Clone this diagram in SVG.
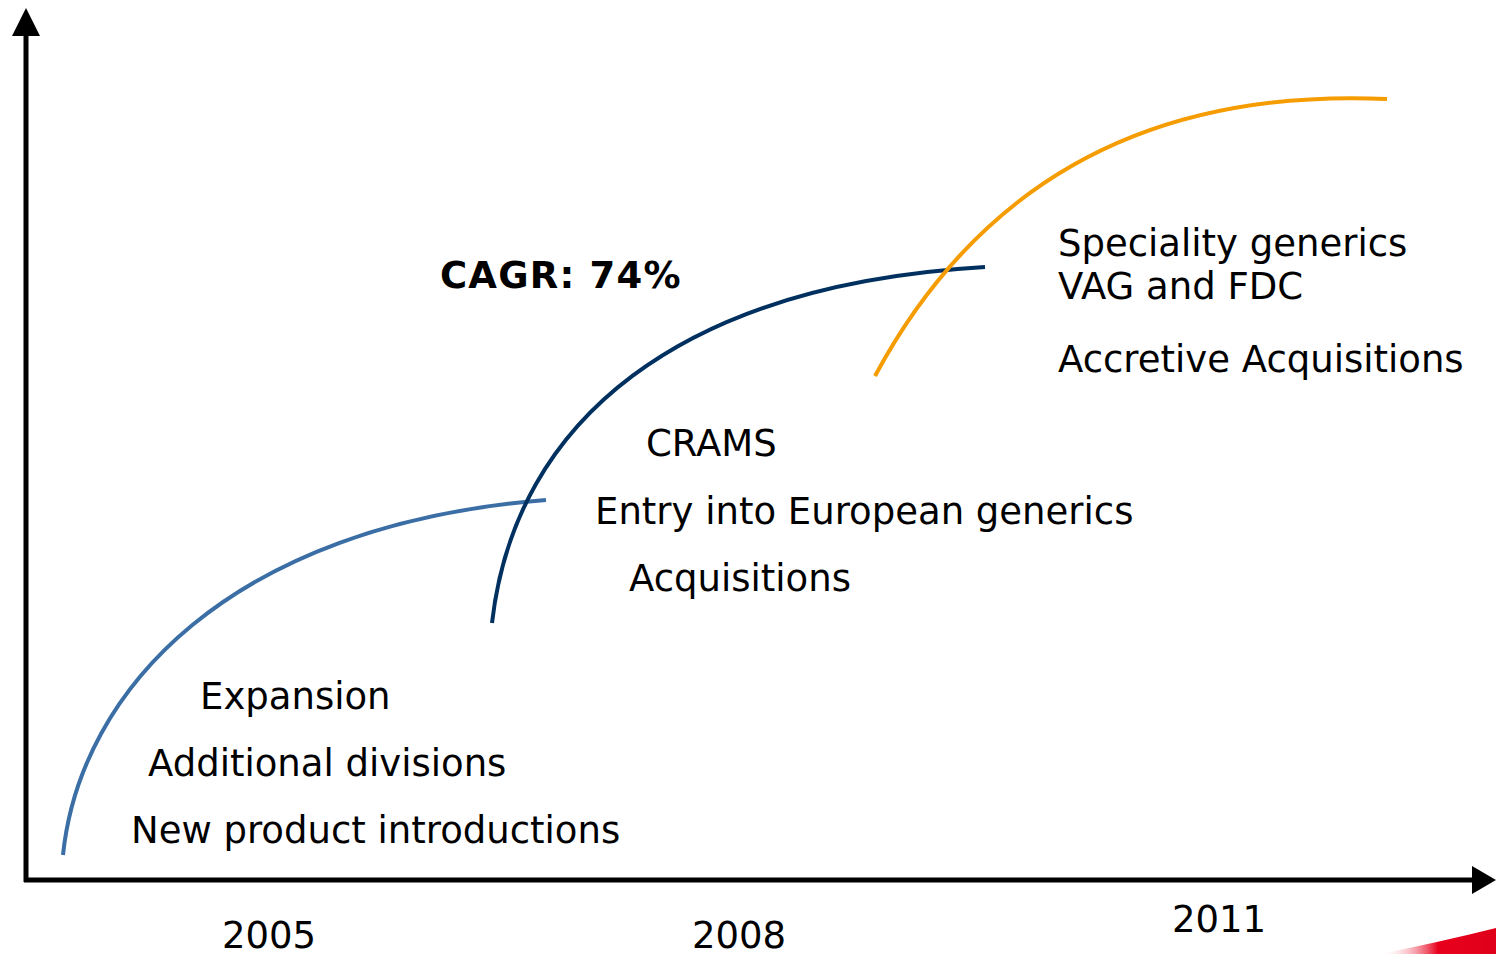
<svg xmlns="http://www.w3.org/2000/svg" width="1496" height="954" viewBox="0 0 1496 954">
<style>
text{font-family:"DejaVu Sans",Verdana,sans-serif;font-size:37px;fill:#000}
.b{font-weight:bold;letter-spacing:1.2px}
.c{fill:none;stroke-width:4;stroke-linecap:butt}
</style>
<defs>
<linearGradient id="rg" x1="0" y1="0" x2="1" y2="0">
<stop offset="0" stop-color="#ffffff" stop-opacity="0"/>
<stop offset="0.5" stop-color="#e8001c"/>
<stop offset="1" stop-color="#e0001a"/>
</linearGradient>
</defs>
<rect width="1496" height="954" fill="#fff"/>
<path d="M1380,954 Q1440,942 1496,928 L1496,954 Z" fill="url(#rg)"/>
<g id="axes">
<line x1="26" y1="882" x2="26" y2="32" stroke="#000" stroke-width="5"/>
<polygon points="12,36 26,8 40,36" fill="#000"/>
<line x1="24" y1="880" x2="1474" y2="880" stroke="#000" stroke-width="5"/>
<polygon points="1472,866 1496,880 1472,894" fill="#000"/>
</g>
<g id="connectors">
<path class="c" stroke="#3a6ea5" d="M63,855 C80,690 230,525 546,500"/>
<path class="c" stroke="#00305f" d="M492,623 C515,420 680,285 985,267"/>
<path class="c" stroke="#f59c00" d="M875,376 C975,190 1140,88 1387,99"/>
</g>
<g id="cagr"><text class="b" x="440" y="288">CAGR: 74%</text></g>
<g id="phase3">
<text x="1058" y="256">Speciality generics</text>
<text x="1058" y="299">VAG and FDC</text>
<text x="1058" y="372">Accretive Acquisitions</text>
</g>
<g id="phase2">
<text x="646" y="456">CRAMS</text>
<text x="595" y="524">Entry into European generics</text>
<text x="629" y="591">Acquisitions</text>
</g>
<g id="phase1">
<text x="200" y="709">Expansion</text>
<text x="148" y="776">Additional divisions</text>
<text x="131" y="843">New product introductions</text>
</g>
<g id="years">
<text x="222" y="948">2005</text>
<text x="692" y="948">2008</text>
<text x="1172" y="932">2011</text>
</g>
</svg>
